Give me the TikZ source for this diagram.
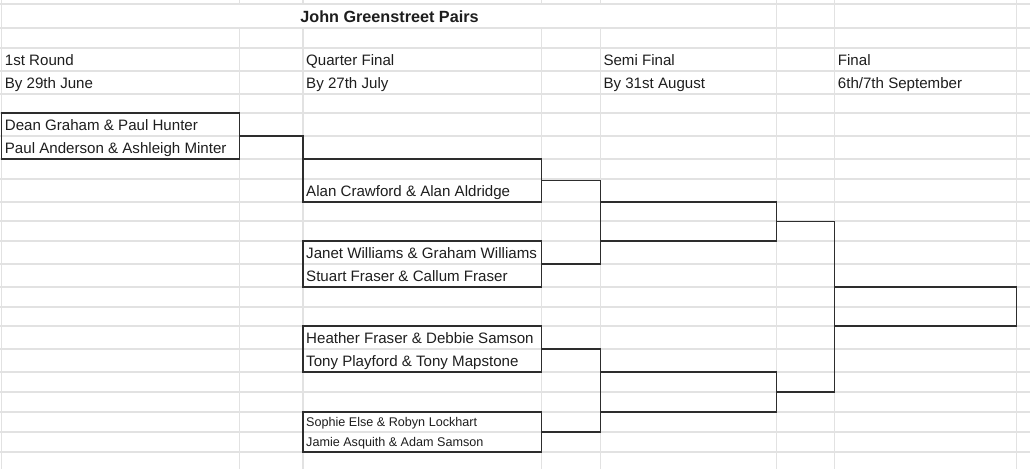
\documentclass[tikz,border=0pt]{standalone}
\usepackage{fontspec}
\setmainfont{Liberation Sans}
\definecolor{gridc}{RGB}{226,226,226}
\definecolor{ink}{RGB}{30,30,30}
\definecolor{borderc}{RGB}{45,45,45}
\begin{document}
\begin{tikzpicture}[x=1pt,y=-1pt,
  gridline/.style={draw=gridc,line width=1.2pt},
  cellbox/.style={draw=borderc,line width=1.1pt,rectangle,inner sep=0pt,outer sep=0pt,anchor=north west},
  celltext/.style={anchor=base west,inner sep=0pt,text=ink,font=\fontsize{15.1}{18}\selectfont},
  smalltext/.style={anchor=base west,inner sep=0pt,text=ink,font=\fontsize{12.6}{15}\selectfont},
  titletext/.style={anchor=base,inner sep=0pt,text=ink,font=\fontsize{16.2}{19}\selectfont\bfseries},
  link/.style={draw=borderc,line width=1.1pt}]
\useasboundingbox (0,0) rectangle (1030,469);
\fill[white] (0,0) rectangle (1030,469);
% grid
\foreach \y in {4,28,48,71,94,113,136,159,179,202,221,241,264,287,307,326,349,372,392,412,432,452}
  \draw[gridline] (0,\y) -- (1030,\y);
\foreach \x in {1.7,776.7,834.7,1016.7}
  \draw[gridline] (\x,0) -- (\x,469);
\foreach \x in {239.5,303,541.7,600.3}
  {\draw[gridline] (\x,0) -- (\x,4); \draw[gridline] (\x,28) -- (\x,469);}
% title and headings
\node[titletext] (title) at (389.5,22.7) {John Greenstreet Pairs};
\node[celltext] (h1) at (4.7,65.2) {1st Round};
\node[celltext] (d1) at (4.7,88.2) {By 29th June};
\node[celltext] (h2) at (306,65.2) {Quarter Final};
\node[celltext] (d2) at (306,88.2) {By 27th July};
\node[celltext] (h3) at (603.3,65.2) {Semi Final};
\node[celltext] (d3) at (603.3,88.2) {By 31st August};
\node[celltext] (h4) at (837.7,65.2) {Final};
\node[celltext] (d4) at (837.7,88.2) {6th/7th September};
% boxes
\node[cellbox,minimum width=237.8pt,minimum height=46pt] (b1) at (1.7,113) {};
\node[cellbox,minimum width=238.7pt,minimum height=43pt] (alan) at (303,159) {};
\node[cellbox,minimum width=238.7pt,minimum height=46pt] (janet) at (303,241) {};
\node[cellbox,minimum width=238.7pt,minimum height=46pt] (heather) at (303,326) {};
\node[cellbox,minimum width=238.7pt,minimum height=40pt] (sophie) at (303,412) {};
\node[cellbox,minimum width=176.4pt,minimum height=39pt] (sf1) at (600.3,202) {};
\node[cellbox,minimum width=176.4pt,minimum height=40pt] (sf2) at (600.3,372) {};
\node[cellbox,minimum width=182pt,minimum height=39pt] (final) at (834.7,287) {};
% names
\node[celltext] (t1) at (4.7,130.2) {Dean Graham \& Paul Hunter};
\node[celltext] (t2) at (4.7,153.2) {Paul Anderson \& Ashleigh Minter};
\node[celltext] (t3) at (306,196.2) {Alan Crawford \& Alan Aldridge};
\node[celltext] (t4) at (306,258.2) {Janet Williams \& Graham Williams};
\node[celltext] (t5) at (306,281.2) {Stuart Fraser \& Callum Fraser};
\node[celltext] (t6) at (306,343.2) {Heather Fraser \& Debbie Samson};
\node[celltext] (t7) at (306,366.2) {Tony Playford \& Tony Mapstone};
\node[smalltext] (t8) at (306,426.7) {Sophie Else \& Robyn Lockhart};
\node[smalltext] (t9) at (306,446.6) {Jamie Asquith \& Adam Samson};
% connectors
\draw[link] (b1.east) -| (alan.north west);
\draw[link] (alan.east) -| (sf1.north west);
\draw[link] (janet.east) -| (sf1.south west);
\draw[link] (heather.east) -| (sf2.north west);
\draw[link] (sophie.east) -| (sf2.south west);
\draw[link] (sf1.east) -| (final.north west);
\draw[link] (sf2.east) -| (final.south west);
\end{tikzpicture}
\end{document}
